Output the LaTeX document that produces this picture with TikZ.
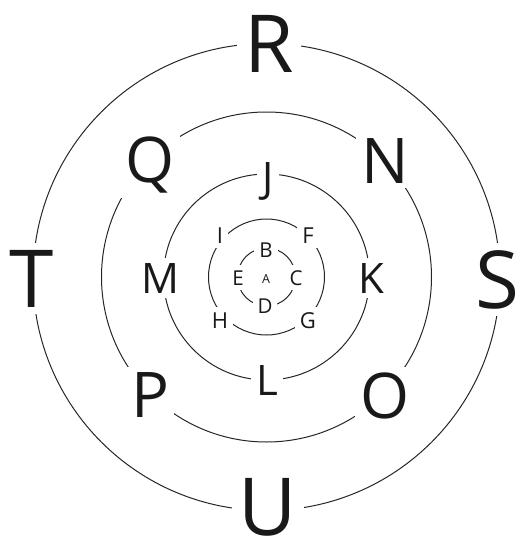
\documentclass[tikz,border=0pt]{standalone}
\usepackage{fontspec}
\setmainfont{Open Sans}

\begin{document}
\begin{tikzpicture}[x=1pt, y=-1pt,
  ring/.style={line width=1pt, black!85},
  letter/.style={fill=white, anchor=base, text=black!90, inner sep=#1},
  outerl/.style={letter=7pt, font=\fontsize{80}{80}\selectfont},
  secondl/.style={letter=5pt, font=\fontsize{63}{63}\selectfont},
  thirdl/.style={letter=5pt, font=\fontsize{42}{42}\selectfont},
  fourthl/.style={letter=5pt, font=\fontsize{22}{22}\selectfont},
  fifthl/.style={letter=5pt, font=\fontsize{20.5}{20.5}\selectfont},
]
\useasboundingbox (0,0) rectangle (516,538);

% === Rings ===
\coordinate (c) at (266.5,277);
\draw[ring] (c) circle[radius=233.5pt];
\draw[ring] (c) circle[radius=165pt];
\draw[ring] (c) circle[radius=103pt];
\draw[ring] (c) circle[radius=58pt];
\draw[ring] (c) circle[radius=29pt];

% === Outer ring ===
\node[outerl] (R) at (269,72) {R};
\node[outerl] (S) at (497,308) {S};
\node[outerl] (T) at (31.5,307) {T};
\node[outerl] (U) at (268,535) {U};

% === Second ring ===
\node[secondl] (Q) at (150,182) {Q};
\node[secondl] (N) at (385,183) {N};
\node[secondl] (P) at (150,417) {P};
\node[secondl] (O) at (385,418) {O};

% === Third ring ===
\node[thirdl] (J) at (268,192) {J};
\node[thirdl] (M) at (160,293) {M};
\node[thirdl] (K) at (371,293) {K};
\node[thirdl] (L) at (267,395) {L};

% === Fourth ring ===
\node[fourthl] (I) at (220,243) {I};
\node[fourthl] (F) at (308,243) {F};
\node[fourthl] (H) at (220,328) {H};
\node[fourthl] (G) at (308,328) {G};

% === Fifth ring ===
\node[fifthl] (B) at (266,257) {B};
\node[fifthl] (E) at (238,285) {E};
\node[fifthl] (C) at (296,285) {C};
\node[fifthl] (D) at (265,313) {D};

% === Centre ===
\node[letter=1pt, font=\fontsize{12.5}{12.5}\selectfont] (A) at (266,283) {A};

\end{tikzpicture}
\end{document}
